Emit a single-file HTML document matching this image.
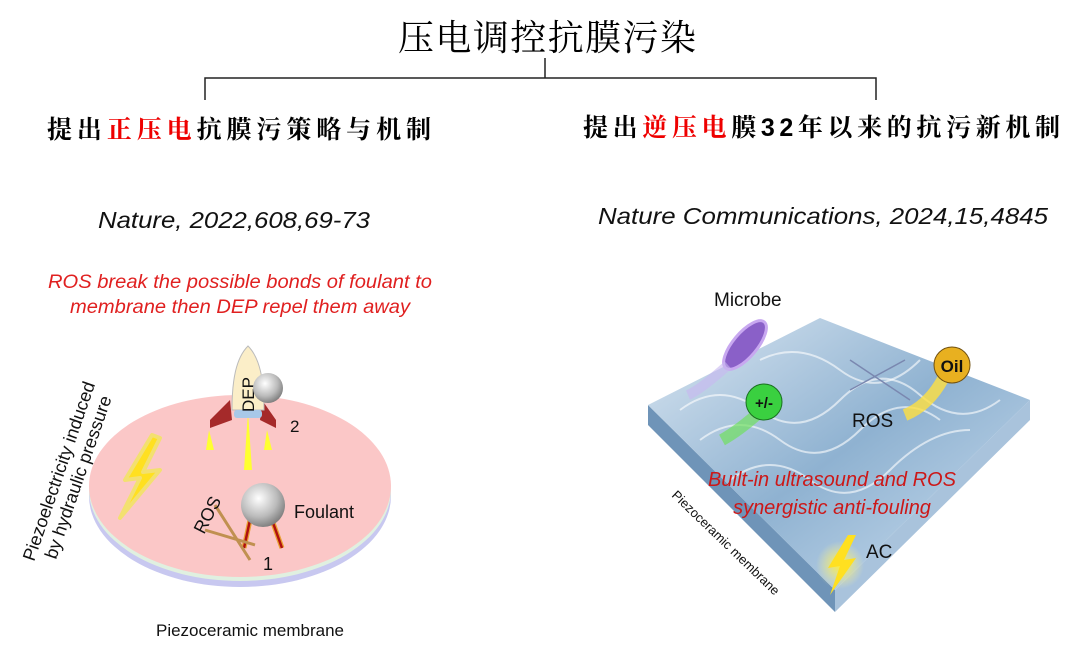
<!DOCTYPE html>
<html><head><meta charset="utf-8"><style>
html,body{margin:0;padding:0;background:#fff;}
svg{display:block;}
.cj{font-family:"Liberation Serif","Noto Serif CJK SC",serif;}
.it{font-family:"Liberation Sans",sans-serif;font-style:italic;}
.sa{font-family:"Liberation Sans",sans-serif;}
</style></head><body>
<svg width="1080" height="670" viewBox="0 0 1080 670" xmlns="http://www.w3.org/2000/svg">
<defs>
<radialGradient id="ball" cx="0.4" cy="0.35" r="0.7"><stop offset="0" stop-color="#fff"/><stop offset="0.6" stop-color="#bbb"/><stop offset="1" stop-color="#777"/></radialGradient>
<linearGradient id="slab" x1="0" y1="0" x2="1" y2="1"><stop offset="0" stop-color="#dbe7f2"/><stop offset="0.5" stop-color="#8fb2d1"/><stop offset="1" stop-color="#cddff0"/></linearGradient>
<radialGradient id="glowY"><stop offset="0" stop-color="#ffee33"/><stop offset="1" stop-color="#fff6a0" stop-opacity="0"/></radialGradient>
</defs>
<text x="547" y="50" text-anchor="middle" class="cj" font-size="36" textLength="298" fill="#000">压电调控抗膜污染</text>
<path d="M545 58V78M205 100V78H876V100" stroke="#222" stroke-width="1.5" fill="none"/>
<text x="47" y="138" class="cj" font-size="25" font-weight="bold" textLength="384" fill="#000">提出<tspan fill="#e00">正压电</tspan>抗膜污策略与机制</text>
<text x="583" y="136" class="cj" font-size="25" font-weight="bold" textLength="477" fill="#000">提出<tspan fill="#e00">逆压电</tspan>膜<tspan class="sa" font-weight="bold">32</tspan>年以来的抗污新机制</text>
<text x="98" y="228" class="it" font-size="23" textLength="272" lengthAdjust="spacingAndGlyphs" fill="#111">Nature, 2022,608,69-73</text>
<text x="598" y="224" class="it" font-size="23" textLength="450" lengthAdjust="spacingAndGlyphs" fill="#111">Nature Communications, 2024,15,4845</text>
<text x="48" y="288" class="it" font-size="19" textLength="384" lengthAdjust="spacingAndGlyphs" fill="#e02020">ROS break the possible bonds of foulant to</text>
<text x="70" y="313" class="it" font-size="19" textLength="340" lengthAdjust="spacingAndGlyphs" fill="#e02020">membrane then DEP repel them away</text>
<ellipse cx="240" cy="496" rx="151" ry="91" fill="#c8c8f0"/>
<ellipse cx="240" cy="490" rx="151" ry="91" fill="#e0f0e0"/>
<ellipse cx="240" cy="486" rx="151" ry="91" fill="#fbc7c7"/>
<path d="M152 435L125 480L140 478L120 518L160 470L143 472L160 438Z" fill="#ffe020" stroke="#f3e070" stroke-width="4" stroke-linejoin="round"/>
<path d="M248 412L244 470L252 470Z" fill="#ffff30"/>
<path d="M209 430L206 450L214 450Z M267 430L264 450L272 450Z" fill="#ffff30"/>
<path d="M230 400L210 420L210 428L232 420Z M262 400L276 420L276 428L260 420Z" fill="#a52a2a"/>
<path d="M248 346C236 358 232 380 232 410L264 410C264 380 260 358 248 346Z" fill="#fbeec8" stroke="#bbb"/>
<rect x="234" y="410" width="28" height="8" rx="3" fill="#a8c8e8"/>
<text x="254" y="412" class="sa" font-size="17" fill="#111" transform="rotate(-90 254 412)">DEP</text>
<circle cx="268" cy="388" r="15" fill="url(#ball)"/>
<text x="290" y="432" class="sa" font-size="17" fill="#111">2</text>
<path d="M250 520L244 548M272 520L282 548" stroke="#e8a030" stroke-width="5"/>
<path d="M250 520L244 548M272 520L282 548" stroke="#b01010" stroke-width="2.5"/>
<circle cx="263" cy="505" r="22" fill="url(#ball)"/>
<text x="294" y="518" class="sa" font-size="18" fill="#111">Foulant</text>
<path d="M215 505L250 560M205 530L255 545" stroke="#c09050" stroke-width="3" fill="none"/>
<text x="204" y="535" class="sa" font-size="18" fill="#111" transform="rotate(-63 204 535)">ROS</text>
<text x="263" y="570" class="sa" font-size="18" fill="#111">1</text>
<text x="34" y="562" class="sa" font-size="18" fill="#111" transform="rotate(-71 34 562)">Piezoelectricity induced</text>
<text x="56" y="560" class="sa" font-size="18" fill="#111" transform="rotate(-71 56 560)">by hydraulic pressure</text>
<text x="250" y="636" text-anchor="middle" class="sa" font-size="17" fill="#111">Piezoceramic membrane</text>
<path d="M648 405L835 590L835 612L648 425Z" fill="#6f94b8"/>
<path d="M835 590L1030 400L1030 420L835 612Z" fill="#a9c3dc"/>
<path d="M648 405L820 318L1030 400L835 590Z" fill="url(#slab)"/>
<g stroke="#fff" stroke-opacity="0.6" stroke-width="2" fill="none">
<path d="M680 410Q720 380 760 410T840 400T920 395T1000 400"/>
<path d="M700 440Q740 410 780 440T860 430T940 420"/>
<path d="M730 480Q770 450 810 480T890 470T970 430"/>
<path d="M760 360Q800 340 840 370T920 360"/>
</g>
<text x="714" y="306" class="sa" font-size="19" fill="#111">Microbe</text>
<ellipse cx="745" cy="345" rx="12" ry="30" transform="rotate(40 745 345)" fill="#8a60c8" stroke="#c8a8f0" stroke-width="3"/>
<path d="M728 365Q700 390 688 395" stroke="#c8b8f0" stroke-width="10" fill="none" opacity="0.6"/>
<path d="M762 410Q740 430 722 440" stroke="#70e060" stroke-width="12" fill="none" opacity="0.7"/>
<circle cx="764" cy="402" r="18" fill="#3ad040" stroke="#1a7020"/>
<text x="764" y="408" text-anchor="middle" class="sa" font-size="15" font-weight="bold" fill="#111">+/-</text>
<path d="M945 375Q930 405 905 415" stroke="#ffe040" stroke-width="12" fill="none" opacity="0.8"/>
<circle cx="952" cy="365" r="18" fill="#e8b020" stroke="#705010"/>
<text x="952" y="372" text-anchor="middle" class="sa" font-size="17" font-weight="bold" fill="#111">Oil</text>
<text x="852" y="427" class="sa" font-size="19" fill="#111">ROS</text>
<path d="M850 360L910 400M850 390L905 360" stroke="#7a88b0" stroke-width="1.5" fill="none"/>
<text x="832" y="486" text-anchor="middle" class="it" font-size="20" fill="#cc1818">Built-in ultrasound and ROS</text>
<text x="832" y="514" text-anchor="middle" class="it" font-size="20" fill="#cc1818">synergistic anti-fouling</text>
<circle cx="840" cy="565" r="24" fill="url(#glowY)"/>
<path d="M848 535L828 568L840 566L830 595L856 558L844 560L856 535Z" fill="#ffe020"/>
<text x="866" y="558" class="sa" font-size="19" fill="#111">AC</text>
<text x="671" y="496" class="sa" font-size="13" fill="#111" transform="rotate(44 671 496)">Piezoceramic membrane</text>
</svg>
</body></html>
